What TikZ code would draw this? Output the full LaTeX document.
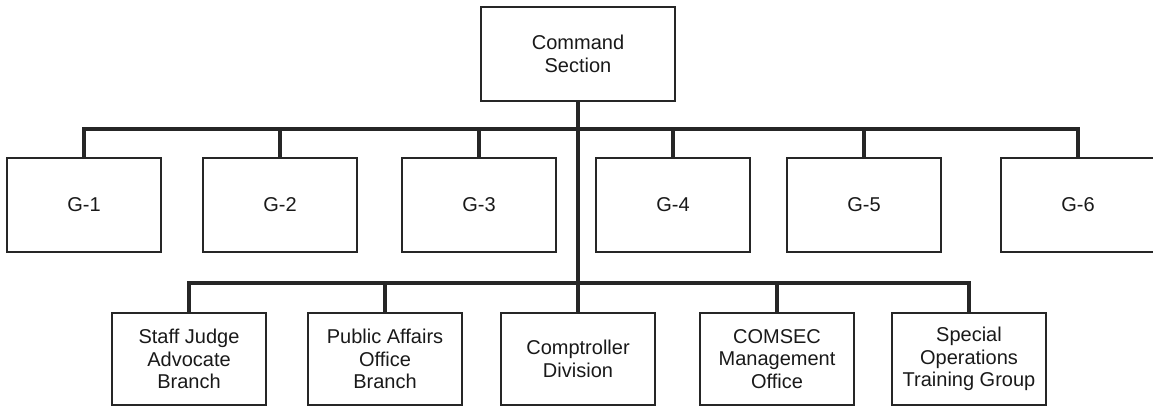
\documentclass[tikz,border=0pt]{standalone}
\usepackage{fontspec}
\setmainfont{Liberation Sans}
\usetikzlibrary{positioning}

\begin{document}
\begin{tikzpicture}[x=1pt,y=-1pt,
  every node/.style={font=\fontsize{20}{22.5}\selectfont, text=black!90},
  unit/.style={draw=black!85, line width=1.4pt, minimum width=154pt, minimum height=94pt, inner sep=0pt, align=center},
  branch/.style={unit, minimum height=92pt},
  link/.style={draw=black!85, line width=3.6pt}]
\useasboundingbox (0,0) rectangle (1153,406);
% command level
\node[unit, minimum width=194pt] (cmd) at (578,54) {Command\\Section};
% general staff
\foreach \n/\x in {1/84,2/280,3/479,4/673,5/864}{
  \node[unit] (g\n) at (\x,205) {G-\n};
}
\node[unit, minimum width=166pt] (g6) at (1084,205) {G-6\hspace*{12pt}};
% special staff
\node[branch] (sja) at (189,359) {Staff Judge\\Advocate\\Branch};
\node[branch] (pao) at (385,359) {Public Affairs\\Office\\Branch};
\node[branch] (comp) at (578,359) {Comptroller\\Division};
\node[branch] (comsec) at (777,359) {COMSEC\\Management\\Office};
\node[branch] (sotg) at (969,359) {Special\\Operations\\Training Group};
\coordinate (topbar) at (0,129);
\coordinate (lowbar) at (0,283);
% connectors
\draw[link] (cmd.south) -- (comp.north);
\draw[link] (g1.north) -- (g1.north |- topbar) -| ([xshift=-6pt]g6.north);
\foreach \n in {2,3,4,5}{
  \draw[link] (g\n.north) -- (g\n.north |- topbar);
}
\draw[link] (sja.north) -- (sja.north |- lowbar) -| (sotg.north);
\foreach \b in {pao,comsec}{
  \draw[link] (\b.north) -- (\b.north |- lowbar);
}
\end{tikzpicture}
\end{document}
